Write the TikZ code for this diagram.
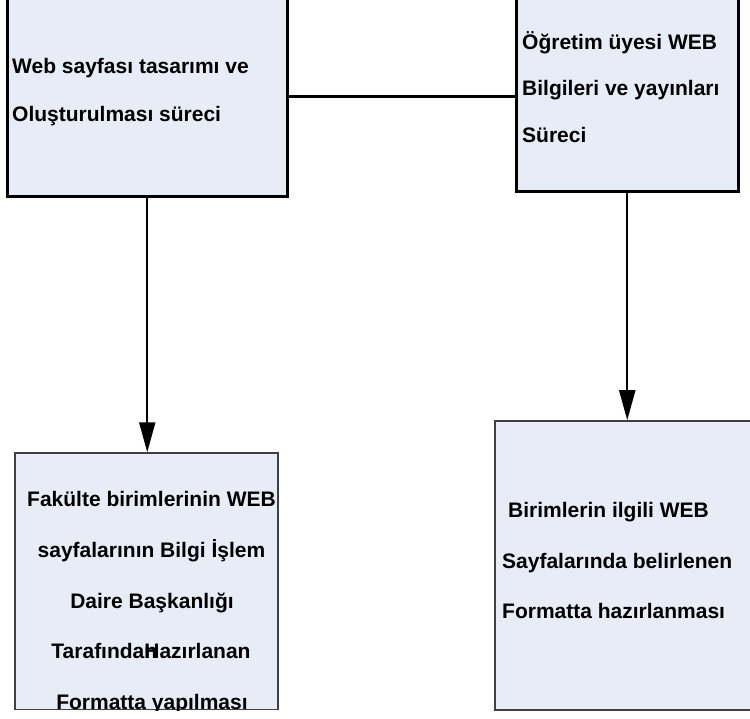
\documentclass[tikz,border=0pt]{standalone}
\usepackage{fontspec}
\setmainfont{Liberation Sans}
\usetikzlibrary{arrows.meta}
\definecolor{boxfill}{HTML}{E8ECF7}
\definecolor{thinborder}{HTML}{404040}
\tikzset{
  topbox/.style={draw=black, line width=3pt, fill=boxfill, inner sep=0pt},
  lowbox/.style={draw=thinborder, line width=1.5pt, fill=boxfill, inner sep=0pt},
  label/.style={inner sep=0pt, font=\fontsize{21}{21}\selectfont\bfseries},
  link/.style={draw=black, line width=3pt},
  arrowlink/.style={draw=black, line width=2pt, -{Triangle[length=30pt,width=16pt]}}
}
\begin{document}
\begin{tikzpicture}[x=1pt,y=-1pt]
\useasboundingbox (0,0) rectangle (750,719);
% boxes
\node[topbox, minimum width=279.5pt, minimum height=207pt] (tl) at (147.25,93.5) {};
\node[topbox, minimum width=221.5pt, minimum height=202pt] (tr) at (627.25,91) {};
\node[lowbox, minimum width=263pt, minimum height=256.5pt] (bl) at (146.5,581.25) {};
\node[lowbox, minimum width=260pt, minimum height=289pt] (br) at (625,565.5) {};
% connectors
\coordinate (hy) at (0,97);
\draw[link] (tl.east |- hy) -- (tr.west |- hy);
\draw[arrowlink] (tl.south) -- (tl.south |- bl.north);
\draw[arrowlink] (tr.south) -- (tr.south |- br.north);
% texts top-left
\node[label, anchor=base west] (t1) at (12,74) {Web sayfası tasarımı ve};
\node[label, anchor=base west] (t2) at (12,122) {Oluşturulması süreci};
% texts top-right
\node[label, anchor=base west] (r1) at (522,50) {Öğretim üyesi WEB};
\node[label, anchor=base west] (r2) at (522,96) {Bilgileri ve yayınları};
\node[label, anchor=base west] (r3) at (522,143) {Süreci};
% texts bottom-left (clipped to box)
\begin{scope}
\clip (bl.north west) rectangle (bl.south east);
\node[label, anchor=base] (b1) at (151.5,506) {Fakülte birimlerinin WEB};
\node[label, anchor=base] (b2) at (151.5,557) {sayfalarının Bilgi İşlem};
\node[label, anchor=base] (b3) at (152,608) {Daire Başkanlığı};
\node[label, anchor=base] (b4) at (151,658) {Tarafından\hspace{-12.9pt}Hazırlanan};
\node[label, anchor=base] (b5) at (152,709) {Formatta yapılması};
\end{scope}
% texts bottom-right
\node[label, anchor=base west] (s1) at (508,517) {Birimlerin ilgili WEB};
\node[label, anchor=base west] (s2) at (502,568) {Sayfalarında belirlenen};
\node[label, anchor=base west] (s3) at (502,618) {Formatta hazırlanması};
\end{tikzpicture}
\end{document}
